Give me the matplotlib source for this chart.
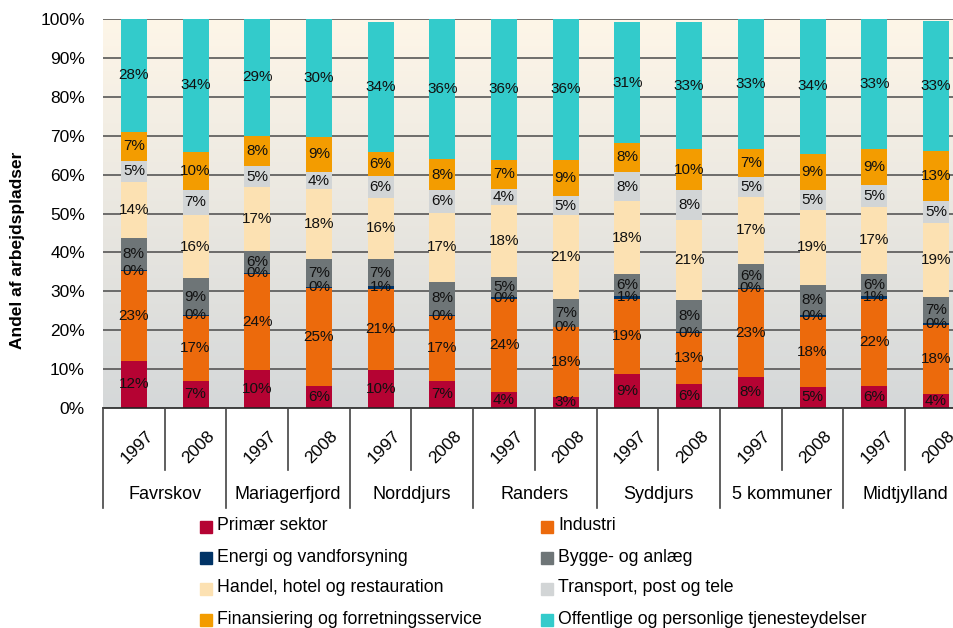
import matplotlib
matplotlib.use("Agg")
import matplotlib.pyplot as plt
import numpy as np

plt.rcParams['font.family'] = ['Liberation Sans', 'DejaVu Sans']

regions = ["Favrskov", "Mariagerfjord", "Norddjurs", "Randers", "Syddjurs", "5 kommuner", "Midtjylland"]
years = ["1997", "2008"]

sectors = ["Primær sektor", "Industri", "Energi og vandforsyning", "Bygge- og anlæg",
           "Handel, hotel og restauration", "Transport, post og tele",
           "Finansiering og forretningsservice", "Offentlige og personlige tjenesteydelser"]
colors = ["#B50333", "#EC6A0C", "#003366", "#6E7577", "#FCE1B2", "#D2D5D6", "#F39C00", "#33CBCB"]

# andele i % pr. søjle (1997, 2008 for hver kommune)
primaer   = [12.1, 7.0, 9.8, 5.7, 9.8, 7.0, 4.2, 2.9, 8.8, 6.2, 8.0, 5.5, 5.7, 3.7]
industri  = [23.0, 16.7, 24.6, 25.2, 20.9, 16.6, 23.9, 17.8, 19.3, 13.1, 22.6, 18.0, 22.4, 17.7]
energi    = [0.4, 0.3, 0.4, 0.2, 0.6, 0.3, 0.4, 0.2, 0.8, 0.2, 0.3, 0.3, 0.8, 0.5]
bygge     = [8.3, 9.3, 5.6, 7.2, 7.0, 8.6, 5.3, 7.2, 5.6, 8.3, 6.2, 7.9, 5.6, 6.7]
handel    = [14.4, 16.4, 16.5, 17.9, 15.7, 17.7, 18.4, 21.6, 18.6, 20.6, 17.2, 19.3, 17.2, 19.0]
transport = [5.3, 6.3, 5.2, 4.5, 5.7, 5.8, 4.1, 4.7, 7.6, 7.6, 5.1, 5.0, 5.7, 5.7]
finans    = [7.5, 9.9, 7.9, 9.0, 6.2, 8.0, 7.5, 9.4, 7.4, 10.6, 7.2, 9.3, 9.2, 12.8]
offentlig = [29.0, 34.1, 30.0, 30.3, 33.3, 36.0, 36.2, 36.2, 31.1, 32.6, 33.4, 34.7, 33.4, 33.4]

# de trykte dataetiketter
lab_primaer   = [12, 7, 10, 6, 10, 7, 4, 3, 9, 6, 8, 5, 6, 4]
lab_industri  = [23, 17, 24, 25, 21, 17, 24, 18, 19, 13, 23, 18, 22, 18]
lab_energi    = [0, 0, 0, 0, 1, 0, 0, 0, 1, 0, 0, 0, 1, 0]
lab_bygge     = [8, 9, 6, 7, 7, 8, 5, 7, 6, 8, 6, 8, 6, 7]
lab_handel    = [14, 16, 17, 18, 16, 17, 18, 21, 18, 21, 17, 19, 17, 19]
lab_transport = [5, 7, 5, 4, 6, 6, 4, 5, 8, 8, 5, 5, 5, 5]
lab_finans    = [7, 10, 8, 9, 6, 8, 7, 9, 8, 10, 7, 9, 9, 13]
lab_offentlig = [28, 34, 29, 30, 34, 36, 36, 36, 31, 33, 33, 34, 33, 33]

series = [primaer, industri, energi, bygge, handel, transport, finans, offentlig]
labels = [lab_primaer, lab_industri, lab_energi, lab_bygge, lab_handel, lab_transport, lab_finans, lab_offentlig]

W, H = 954, 628
fig = plt.figure(figsize=(W / 100, H / 100), dpi=100)
# akse går lidt ud over højre kant som i originalen
ax = fig.add_axes([103 / W, 1 - 408 / H, 863.8 / W, 389 / H])

n = len(primaer)
x = np.arange(n)

# baggrund med gradient
grad = np.linspace(0, 1, 256).reshape(-1, 1)
top = np.array([254, 246, 232]) / 255
bot = np.array([213, 216, 217]) / 255
img = top * (1 - grad[..., None]) + bot * grad[..., None]
img = np.repeat(img, 2, axis=1)
ax.imshow(img, extent=[-0.5, n - 0.5, 0, 100], aspect='auto', zorder=0)

for v in range(10, 101, 10):
    ax.axhline(v, color='#4a4a4a', lw=1.1, zorder=1)

bottom = np.zeros(n)
for vals, labs, col in zip(series, labels, colors):
    vals = np.array(vals)
    ax.bar(x, vals, 0.42, bottom=bottom, color=col, zorder=2, linewidth=0)
    for i in range(n):
        ax.text(x[i], bottom[i] + vals[i] / 2, f"{labs[i]}%", ha='center', va='center',
                fontsize=11, color='#111111', zorder=3)
    bottom += vals

ax.set_xlim(-0.5, n - 0.5)
ax.set_ylim(0, 100)
ax.set_yticks(range(0, 101, 10))
ax.set_yticklabels([f"{v}%" for v in range(0, 101, 10)], fontsize=12.5)
ax.tick_params(axis='y', length=0, pad=13)
ax.set_xticks([])
for s in ['top', 'right', 'left']:
    ax.spines[s].set_visible(False)
ax.spines['bottom'].set_color('#222222')
ax.spines['bottom'].set_linewidth(1.2)

# kategoriakse under plottet
for i in range(n + 1):
    xx = i - 0.5
    ymin = -25.7 if i % 2 == 0 else -15.9
    ax.plot([xx, xx], [0, ymin], color='#444444', lw=1.2, clip_on=False, zorder=4)
for i in range(n):
    ax.text(x[i] + 0.05, -10, years[i % 2], rotation=45, ha='center', va='center', fontsize=12.5)
for j, r in enumerate(regions):
    ax.text(2 * j + 0.5, -22.2, r, ha='center', va='center', fontsize=13)

fig.text(18 / W, 1 - 250 / H, "Andel af arbejdspladser", rotation=90, ha='center', va='center',
         fontsize=12.5, fontweight='bold')

# forklaring
ord_left = [0, 2, 4, 6]
ord_right = [1, 3, 5, 7]
for col_idx, (xs, idxs) in enumerate([(200, ord_left), (541, ord_right)]):
    for row, k in enumerate(idxs):
        yc = 527 + row * 31
        fig.patches.append(plt.Rectangle((xs / W, 1 - (yc + 6) / H), 12 / W, 12 / H,
                                         transform=fig.transFigure, color=colors[k]))
        fig.text((xs + 17) / W, 1 - (yc - 1) / H, sectors[k], ha='left', va='center', fontsize=12.7)

fig.savefig("out.png", dpi=100)
